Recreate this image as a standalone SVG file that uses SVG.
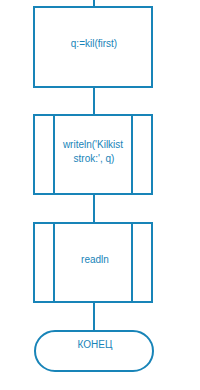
<svg xmlns="http://www.w3.org/2000/svg" width="200" height="390" viewBox="0 0 200 390">
<style>
.s{fill:#fff;stroke:#1884b8;stroke-width:2}
.l{fill:none;stroke:#1884b8;stroke-width:2}
.t{fill:#1884b8;font-family:"Liberation Sans",Arial,sans-serif;font-size:10px;text-anchor:middle}
</style>
<rect width="200" height="390" fill="#fff"/>
<g id="connectors">
<line class="l" x1="94" y1="0" x2="94" y2="7"/>
<line class="l" x1="94" y1="87" x2="94" y2="115"/>
<line class="l" x1="94" y1="194" x2="94" y2="223"/>
<line class="l" x1="94" y1="302" x2="94" y2="331"/>
</g>
<g id="n1">
<rect class="s" x="34" y="7" width="118" height="80"/>
<text class="t" x="94" y="47">q:=kil(first)</text>
</g>
<g id="n2">
<rect class="s" x="34" y="115" width="118" height="79"/>
<line class="l" x1="54" y1="115" x2="54" y2="194"/>
<line class="l" x1="132" y1="115" x2="132" y2="194"/>
<text class="t" x="93" y="148">writeln('Kilkist</text>
<text class="t" x="94" y="162">strok:', q)</text>
</g>
<g id="n3">
<rect class="s" x="34" y="223" width="118" height="79"/>
<line class="l" x1="54" y1="223" x2="54" y2="302"/>
<line class="l" x1="132" y1="223" x2="132" y2="302"/>
<text class="t" x="95" y="263">readln</text>
</g>
<g id="n4">
<rect class="s" x="35" y="331" width="118" height="40" rx="20" ry="20"/>
<text class="t" x="95" y="348">КОНЕЦ</text>
</g>
</svg>
